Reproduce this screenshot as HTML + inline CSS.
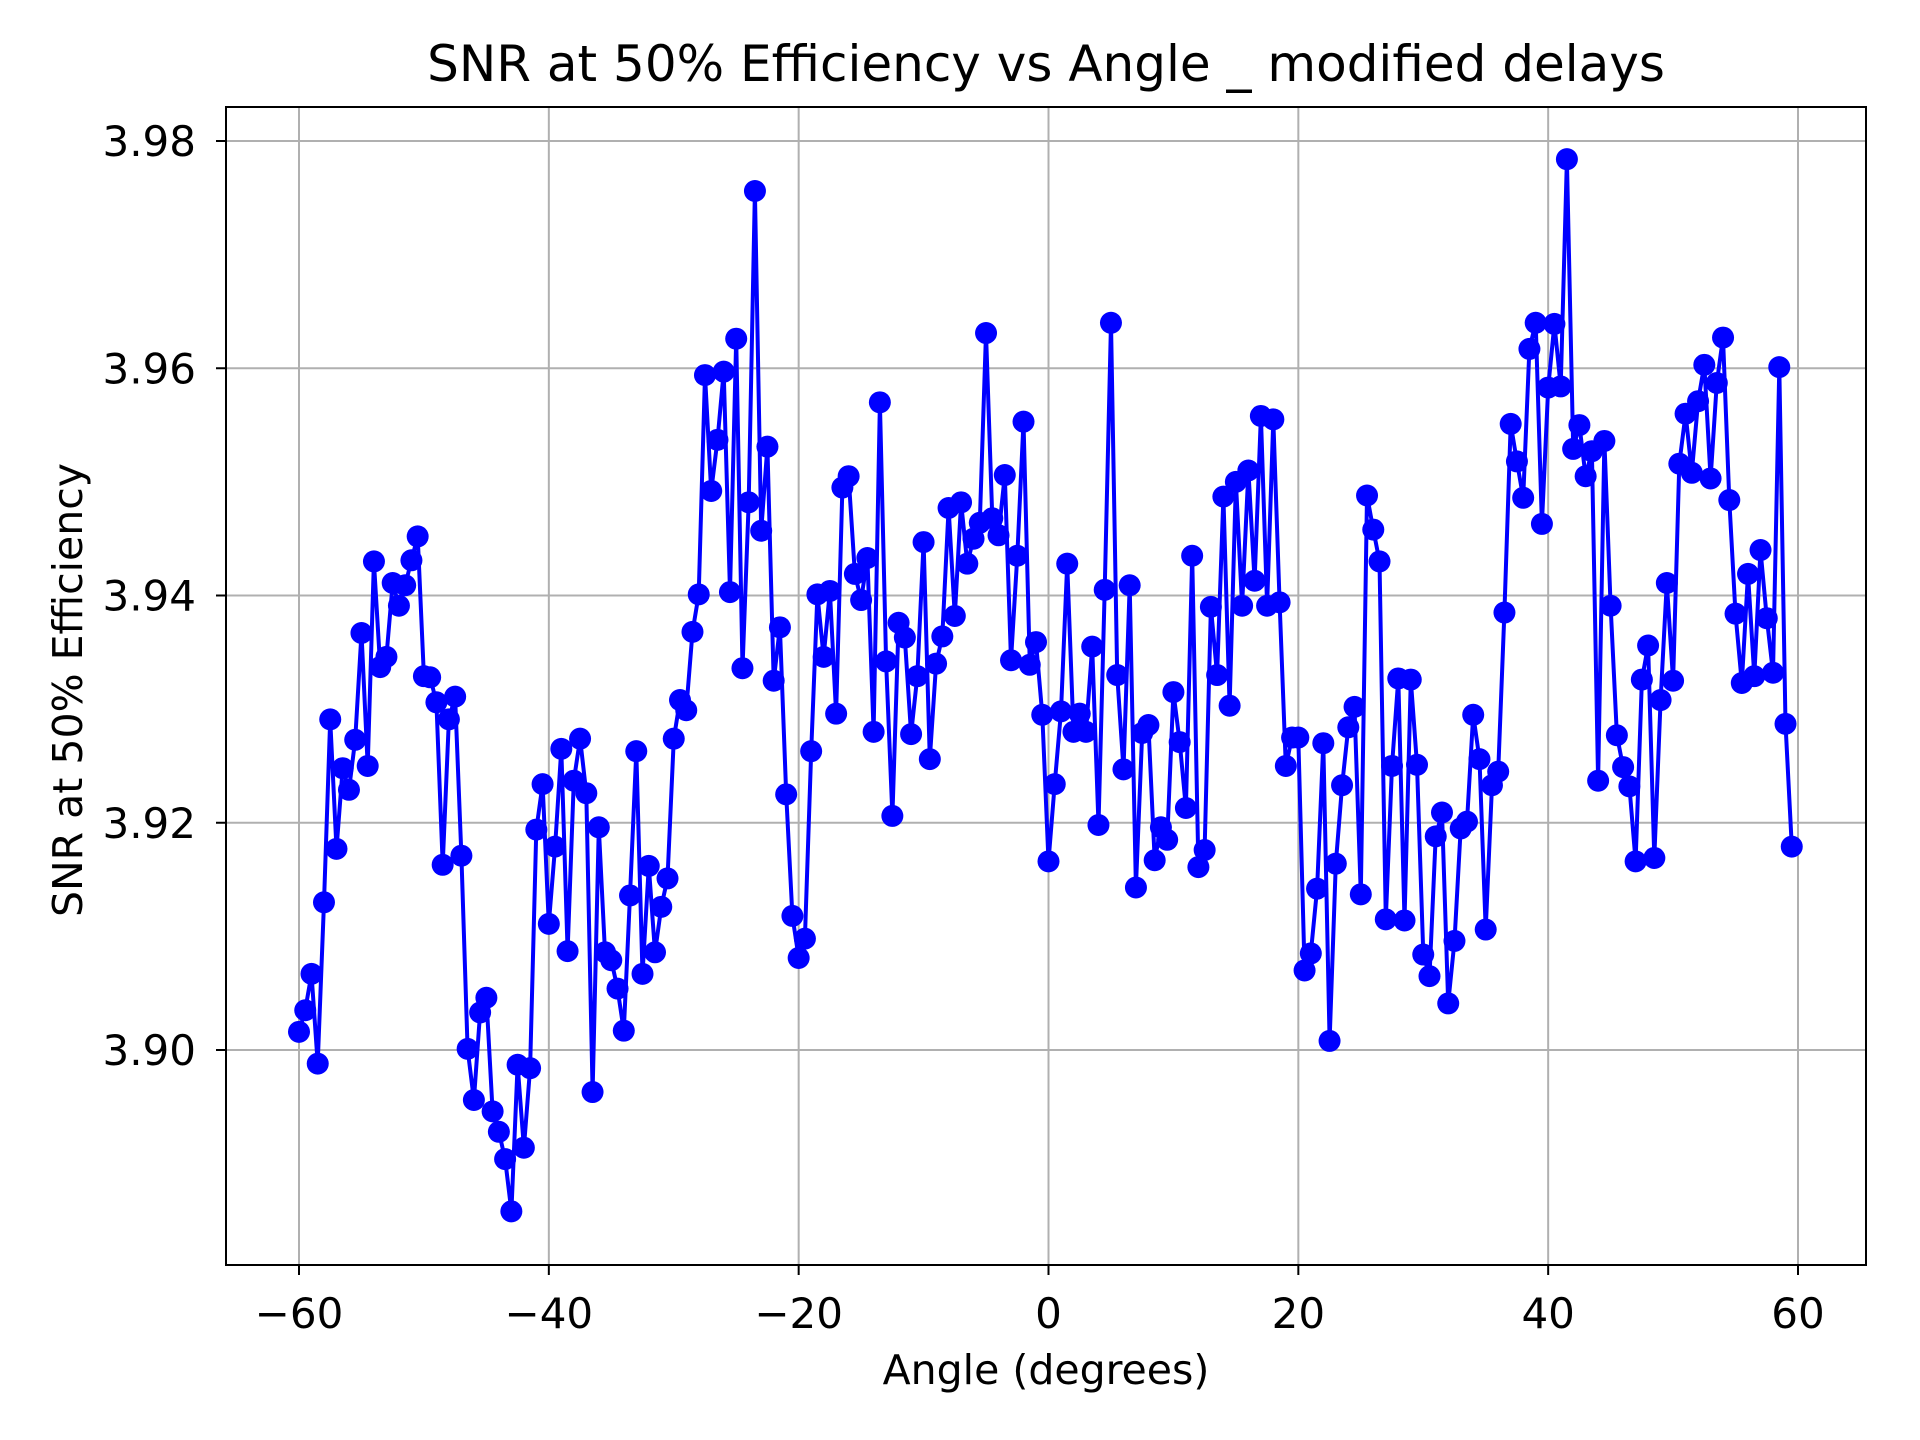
<!DOCTYPE html>
<html><head><meta charset="utf-8"><style>
html,body{margin:0;padding:0;background:#fff;}
svg{display:block;font-family:"DejaVu Sans","Liberation Sans",sans-serif;}
</style></head><body>
<svg id="chart" width="1920" height="1440" viewBox="0 0 1920 1440" xmlns="http://www.w3.org/2000/svg">
<rect width="1920" height="1440" fill="#fff"/>
<g id="grid"></g>
<g id="series"></g>
<rect x="226" y="107" width="1640" height="1158" fill="none" stroke="#000" stroke-width="2"/>
<g id="axes"></g>
<text x="1046" y="81" font-size="50" text-anchor="middle">SNR at 50% Efficiency vs Angle _ modified delays</text>
<text x="1046" y="1384" font-size="41" text-anchor="middle">Angle (degrees)</text>
<text x="0" y="0" font-size="41" text-anchor="middle" transform="translate(82,690) rotate(-90)">SNR at 50% Efficiency</text>
</svg>
<script>
const angles=[-60,-59.5,-59,-58.5,-58,-57.5,-57,-56.5,-56,-55.5,-55,-54.5,-54,-53.5,-53,-52.5,-52,-51.5,-51,-50.5,-50,-49.5,-49,-48.5,-48,-47.5,-47,-46.5,-46,-45.5,-45,-44.5,-44,-43.5,-43,-42.5,-42,-41.5,-41,-40.5,-40,-39.5,-39,-38.5,-38,-37.5,-37,-36.5,-36,-35.5,-35,-34.5,-34,-33.5,-33,-32.5,-32,-31.5,-31,-30.5,-30,-29.5,-29,-28.5,-28,-27.5,-27,-26.5,-26,-25.5,-25,-24.5,-24,-23.5,-23,-22.5,-22,-21.5,-21,-20.5,-20,-19.5,-19,-18.5,-18,-17.5,-17,-16.5,-16,-15.5,-15,-14.5,-14,-13.5,-13,-12.5,-12,-11.5,-11,-10.5,-10,-9.5,-9,-8.5,-8,-7.5,-7,-6.5,-6,-5.5,-5,-4.5,-4,-3.5,-3,-2.5,-2,-1.5,-1,-0.5,0,0.5,1,1.5,2,2.5,3,3.5,4,4.5,5,5.5,6,6.5,7,7.5,8,8.5,9,9.5,10,10.5,11,11.5,12,12.5,13,13.5,14,14.5,15,15.5,16,16.5,17,17.5,18,18.5,19,19.5,20,20.5,21,21.5,22,22.5,23,23.5,24,24.5,25,25.5,26,26.5,27,27.5,28,28.5,29,29.5,30,30.5,31,31.5,32,32.5,33,33.5,34,34.5,35,35.5,36,36.5,37,37.5,38,38.5,39,39.5,40,40.5,41,41.5,42,42.5,43,43.5,44,44.5,45,45.5,46,46.5,47,47.5,48,48.5,49,49.5,50,50.5,51,51.5,52,52.5,53,53.5,54,54.5,55,55.5,56,56.5,57,57.5,58,58.5,59,59.5];
const snr=[3.9016,3.9035,3.9067,3.8988,3.9130,3.9291,3.9177,3.9248,3.9229,3.9273,3.9367,3.9250,3.9430,3.9337,3.9346,3.9411,3.9391,3.9409,3.9431,3.9452,3.9329,3.9328,3.9306,3.9163,3.9291,3.9311,3.9171,3.9001,3.8956,3.9033,3.9046,3.8946,3.8928,3.8904,3.8858,3.8987,3.8914,3.8984,3.9194,3.9234,3.9111,3.9179,3.9265,3.9087,3.9237,3.9274,3.9226,3.8963,3.9196,3.9086,3.9079,3.9054,3.9017,3.9136,3.9263,3.9067,3.9162,3.9086,3.9126,3.9151,3.9274,3.9308,3.9299,3.9368,3.9401,3.9594,3.9492,3.9537,3.9597,3.9403,3.9626,3.9336,3.9482,3.9756,3.9457,3.9531,3.9325,3.9372,3.9225,3.9118,3.9081,3.9098,3.9263,3.9401,3.9346,3.9404,3.9296,3.9495,3.9505,3.9419,3.9396,3.9433,3.9280,3.9570,3.9342,3.9206,3.9376,3.9363,3.9278,3.9329,3.9447,3.9256,3.9340,3.9364,3.9477,3.9382,3.9482,3.9428,3.9450,3.9464,3.9631,3.9468,3.9453,3.9506,3.9343,3.9435,3.9553,3.9339,3.9359,3.9295,3.9166,3.9234,3.9298,3.9428,3.9280,3.9296,3.9280,3.9355,3.9198,3.9405,3.9640,3.9330,3.9247,3.9409,3.9143,3.9279,3.9286,3.9167,3.9196,3.9185,3.9315,3.9271,3.9213,3.9435,3.9161,3.9176,3.9390,3.9330,3.9487,3.9303,3.9500,3.9391,3.9510,3.9413,3.9558,3.9391,3.9555,3.9394,3.9250,3.9275,3.9275,3.9070,3.9085,3.9142,3.9270,3.9008,3.9164,3.9233,3.9284,3.9302,3.9137,3.9488,3.9458,3.9430,3.9115,3.9250,3.9327,3.9114,3.9326,3.9251,3.9084,3.9065,3.9188,3.9209,3.9041,3.9096,3.9195,3.9201,3.9295,3.9256,3.9106,3.9233,3.9245,3.9385,3.9551,3.9518,3.9486,3.9617,3.9640,3.9463,3.9583,3.9639,3.9584,3.9784,3.9529,3.9550,3.9505,3.9527,3.9237,3.9536,3.9391,3.9277,3.9249,3.9232,3.9166,3.9326,3.9356,3.9169,3.9308,3.9411,3.9325,3.9516,3.9560,3.9508,3.9571,3.9603,3.9503,3.9587,3.9627,3.9484,3.9384,3.9323,3.9419,3.9329,3.9440,3.9380,3.9332,3.9601,3.9287,3.9179];
const xTicks=[-60,-40,-20,0,20,40,60];
const xTickLabels=["\u221260","\u221240","\u221220","0","20","40","60"];
const yTicks=[3.90,3.92,3.94,3.96,3.98];
const yTickLabels=["3.90","3.92","3.94","3.96","3.98"];

const NS="http://www.w3.org/2000/svg";
const L=226,R=1866,T=107,B=1265;
function xs(a){return 299+(a+60)*(1798-299)/120;}
function ys(v){return 1050-(v-3.90)*(1050-141)/0.08;}
function mk(tag,attrs,parent){const e=document.createElementNS(NS,tag);for(const k in attrs)e.setAttribute(k,attrs[k]);parent.appendChild(e);return e;}
const grid=document.getElementById('grid'),axes=document.getElementById('axes'),series=document.getElementById('series');
xTicks.forEach((t,i)=>{
  const x=xs(t);
  const g=mk('line',{x1:x,x2:x,y1:T,y2:B,stroke:'#b0b0b0','stroke-width':2},grid);
  
  
  const tk=mk('line',{x1:x,x2:x,y1:B,y2:B+10,stroke:'#000','stroke-width':2},axes);
  
  
  const tx=mk('text',{x:x,y:B+63,'font-size':42,'text-anchor':'middle'},axes);
  tx.textContent=xTickLabels[i];
  
  
});
yTicks.forEach((t,i)=>{
  const y=ys(t);
  const g=mk('line',{x1:L,x2:R,y1:y,y2:y,stroke:'#b0b0b0','stroke-width':2},grid);
  
  
  const tk=mk('line',{x1:L-10,x2:L,y1:y,y2:y,stroke:'#000','stroke-width':2},axes);
  
  
  const tx=mk('text',{x:L-30,y:y+15,'font-size':42,'text-anchor':'end'},axes);
  tx.textContent=yTickLabels[i];
  
  
});
const pts=angles.map((a,i)=>xs(a).toFixed(1)+','+ys(snr[i]).toFixed(1)).join(' ');
const pl=mk('polyline',{points:pts,fill:'none',stroke:'#0000ff','stroke-width':4,'stroke-linejoin':'round'},series);


angles.forEach((a,i)=>{
  const c=mk('circle',{cx:xs(a),cy:ys(snr[i]),r:11,fill:'#0000ff'},series);
  
  
});
</script>
</body></html>
